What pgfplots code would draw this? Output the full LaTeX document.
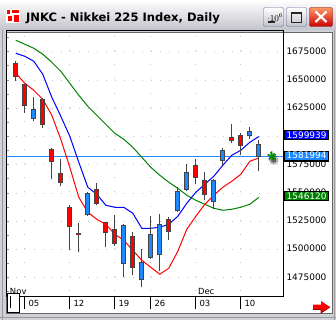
\documentclass[border=0pt]{standalone}
\usepackage{fontspec}
\setmainfont{DejaVu Sans}
\usepackage{pgfplots}
\pgfplotsset{compat=1.18}
\usepackage{pgfplotstable}

\definecolor{winframe}{HTML}{D0D0D8}
\definecolor{candR}{HTML}{FF0000}
\definecolor{candB}{HTML}{1E88FF}
\definecolor{wick}{HTML}{444444}
\definecolor{maB}{HTML}{0000FF}
\definecolor{maR}{HTML}{FF0000}
\definecolor{maG}{HTML}{008000}
\definecolor{priceB}{HTML}{1E88FF}
\definecolor{gridc}{HTML}{C4C4C4}

% wicks: low and high of every candle (nan rows separate candles)
\pgfplotstableread{
i y
1 1648893
1 1666593
nan nan
2 1620575
2 1646239
nan nan
3 1613495
3 1634734
nan nan
4 1607300
4 1633849
nan nan
5 1562167
5 1589601
nan nan
6 1555973
6 1579867
nan nan
7 1499335
7 1539158
nan nan
8 1497565
8 1523229
nan nan
9 1529424
9 1550663
nan nan
10 1539158
10 1558627
nan nan
11 1501990
11 1524114
nan nan
12 1502875
12 1530309
nan nan
13 1475441
13 1522344
nan nan
14 1477211
14 1515264
nan nan
15 1466592
15 1500220
nan nan
16 1491371
16 1529424
nan nan
17 1480751
17 1531194
nan nan
18 1508185
18 1528539
nan nan
19 1532964
19 1555088
nan nan
20 1551548
20 1575442
nan nan
21 1557742
21 1579867
nan nan
22 1543583
22 1568362
nan nan
23 1535619
23 1562167
nan nan
24 1574557
24 1589601
nan nan
25 1594026
25 1610840
nan nan
26 1583406
26 1602875
nan nan
27 1597566
27 1608185
nan nan
28 1569247
28 1596681
}\wicktab

% red (rising) bodies: open (bottom, s=1) and close (top, s=-1)
\pgfplotstableread{
i y s
1 1652433 1
1 1664823 -1
nan nan 0
2 1626769 1
2 1646239 -1
nan nan 0
4 1609955 1
4 1632964 -1
nan nan 0
5 1577212 1
5 1588716 -1
nan nan 0
6 1558627 1
6 1567477 -1
nan nan 0
7 1519689 1
7 1537388 -1
nan nan 0
8 1512610 1
8 1514379 -1
nan nan 0
10 1540043 1
10 1553318 -1
nan nan 0
11 1514379 1
11 1524114 -1
nan nan 0
12 1504645 1
12 1517919 -1
nan nan 0
14 1483406 1
14 1511725 -1
nan nan 0
18 1515264 1
18 1526769 -1
nan nan 0
21 1563052 1
21 1574557 -1
nan nan 0
22 1548008 1
22 1561282 -1
nan nan 0
25 1595796 1
25 1599336 -1
nan nan 0
26 1591371 1
26 1601106 -1
}\redtab

% blue (falling) bodies: close (bottom, s=1) and open (top, s=-1)
\pgfplotstableread{
i y s
3 1615265 1
3 1624115 -1
nan nan 0
9 1530309 1
9 1549778 -1
nan nan 0
13 1486946 1
13 1521459 -1
nan nan 0
15 1472786 1
15 1488716 -1
nan nan 0
16 1492255 1
16 1513494 -1
nan nan 0
17 1494910 1
17 1522344 -1
nan nan 0
19 1533849 1
19 1551548 -1
nan nan 0
20 1552433 1
20 1568362 -1
nan nan 0
23 1541813 1
23 1561282 -1
nan nan 0
24 1578097 1
24 1587831 -1
nan nan 0
27 1600221 1
27 1604645 -1
nan nan 0
28 1581994 1
28 1593141 -1
}\bluetab

\pgfplotstableread{
i b r g
1 1673672 1655973 1685177
2 1671017 1647123 1681637
3 1666593 1640929 1678097
4 1655088 1632964 1672787
5 1634734 1618805 1665708
6 1617920 1597566 1657743
7 1600221 1572787 1647123
8 1577212 1546238 1636504
9 1555088 1532964 1626769
10 1548893 1526769 1618805
11 1539158 1522344 1610840
12 1537388 1513494 1602875
13 1537388 1508185 1597566
14 1532079 1499335 1590486
15 1518804 1490486 1581636
16 1518804 1484291 1572787
17 1519689 1478096 1565707
18 1522344 1483406 1559512
19 1529424 1498450 1554203
20 1540928 1517919 1548008
21 1550663 1529424 1543583
22 1557742 1540043 1540043
23 1564822 1548008 1536503
24 1574557 1555088 1534733
25 1583406 1560397 1535619
26 1587831 1566592 1537388
27 1594911 1578097 1540043
28 1599939 1581000 1546120
}\matab

\begin{document}
\begin{tikzpicture}[x=1bp,y=1bp]
\useasboundingbox (0,0) rectangle (336,320);
% window chrome
\fill[winframe] (0,0) rectangle (336,320);
\shade[top color=white, bottom color=black!6!winframe] (0,290) rectangle (336,320);
\draw[black!40, line width=1bp] (2.5,0) -- (2.5,290);
\draw[black!40, line width=1bp] (0,2.5) -- (336,2.5);
\draw[black!40, line width=1bp] (334.5,0) -- (334.5,290);
\fill[white] (7,7) rectangle (332,287);
\draw[black!60, line width=1bp] (6.5,6.5) rectangle (332.5,287.5);
% icon
\fill[white] (6,297) rectangle (20,311);
\fill[red] (7,306) rectangle (10,310);
\fill[red] (12,307) rectangle (19,310);
\fill[red] (8,299) rectangle (12,304);
\fill[red] (14,298) rectangle (19,305);
% title
\node[anchor=base west, inner sep=0pt, font=\fontsize{11.6}{12}\selectfont\bfseries] at (26,299) {JNKC - Nikkei 225 Index, Daily};
% buttons
\shadedraw[top color=white, bottom color=blue!8!gray!45, draw=blue!20!gray, rounded corners=2bp] (263.5,293.5) rectangle (283.5,312.5);
\fill[black!85] (268,296.5) rectangle (275,299);
\shadedraw[top color=white, bottom color=blue!8!gray!45, draw=blue!20!gray, rounded corners=2bp] (286.5,293.5) rectangle (306.5,312.5);
\draw[black!85, line width=1.1bp] (291.5,297.5) rectangle (301.5,307.5);
\fill[black!85] (291,306) rectangle (302,308);
\shadedraw[top color=red!35!orange!60!white, bottom color=red!80!black, draw=red!45!black, rounded corners=2bp] (309.5,293.5) rectangle (332.5,312.5);
\draw[white, line width=2.2bp] (315.5,298) -- (326.5,308.5) (315.5,308.5) -- (326.5,298);

\begin{axis}[
  at={(7,21)}, anchor=south west,
  scale only axis, width=277bp, height=266bp,
  xmin=-0.055556, xmax=30.722222, ymin=1458627, ymax=1694027,
  axis line style={black, line width=1bp},
  xtick={2,7,12,16,21,26},
  xticklabels={05,12,19,26,03,10},
  xtick pos=bottom, xtick align=outside,
  major tick length=13bp,
  xtick style={black, line width=1bp},
  xticklabel style={font=\fontsize{8.5}{8.5}\selectfont, anchor=base west, inner sep=0pt, xshift=3.5bp, yshift=3bp},
  ytick={1475000,1500000,1525000,1550000,1575000,1600000,1625000,1650000,1675000},
  yticklabels={1475000,1500000,1525000,1550000,1575000,1600000,1625000,1650000,1675000},
  ytick pos=left, yticklabel pos=right,
  major y tick style={draw=none},
  minor ytick={1462500,1475000,1487500,1500000,1512500,1525000,1537500,1550000,1562500,1575000,1587500,1600000,1612500,1625000,1637500,1650000,1662500,1675000,1687500},
  minor tick length=3bp,
  minor tick style={black!45, line width=0.8bp},
  yticklabel style={font=\fontsize{9}{9}\selectfont, anchor=west, inner sep=0pt, xshift=3bp, yshift=1bp},
  xmajorgrids, ymajorgrids,
  x grid style={gridc, line width=1bp, dash pattern=on 1bp off 13.125bp, dash phase=9.2bp},
  y grid style={gridc, line width=1bp, dash pattern=on 1bp off 8bp, dash phase=8bp},
  unbounded coords=jump,
]
% current price line
\addplot[priceB, line width=1bp, solid] coordinates {(-0.055556,1581994) (30.722222,1581994)};
% moving averages
\addplot[maG, line width=1bp, solid] table[x=i, y=g] {\matab};
\addplot[maB, line width=1bp, solid] table[x=i, y=b] {\matab};
\addplot[maR, line width=1bp, solid] table[x=i, y=r] {\matab};
% candles: wicks, body outlines, body fills
\addplot[forget plot, wick, line width=1bp, solid, mark=none, line cap=butt] table[x=i, y=y] {\wicktab};
\addplot[forget plot, wick, line width=5bp, solid, mark=none, line cap=butt] table[x=i, y=y] {\redtab};
\addplot[forget plot, wick, line width=5bp, solid, mark=none, line cap=butt] table[x=i, y=y] {\bluetab};
\addplot[forget plot, candR, line width=3bp, solid, mark=none, line cap=butt] table[x=i, y expr={\thisrow{y}+800*\thisrow{s}}] {\redtab};
\addplot[forget plot, candB, line width=3bp, solid, mark=none, line cap=butt] table[x=i, y expr={\thisrow{y}+800*\thisrow{s}}] {\bluetab};
% current price marker
\addplot[forget plot, only marks, mark=*, mark size=4.5bp, mark options={solid, fill=black, draw=none, opacity=0.25}] coordinates {(29.66,1579300)};
\addplot[forget plot, only marks, mark=*, mark size=2.5bp, mark options={solid, fill=black, draw=none, opacity=0.45}] coordinates {(29.66,1579300)};
\addplot[forget plot, only marks, mark=star, mark size=4.5bp, mark options={solid, draw=green!45!black, line width=1.3bp}] coordinates {(29.44,1582800)};
\addplot[forget plot, only marks, mark=asterisk, mark size=4bp, mark options={solid, draw=green!55!black, line width=1.1bp, rotate=15}] coordinates {(29.44,1582800)};
% month labels
\node[anchor=base west, inner sep=0pt, font=\fontsize{8.5}{8.5}\selectfont, xshift=3bp, yshift=1.5bp] at (0,1458627) {Nov};
\node[anchor=base west, inner sep=0pt, font=\fontsize{8.5}{8.5}\selectfont, xshift=2bp, yshift=1.5bp] at (21,1458627) {Dec};
\coordinate (bB) at (30.722222,1599939);
\coordinate (bR) at (30.722222,1580300);
\coordinate (bP) at (30.722222,1581994);
\coordinate (bG) at (30.722222,1546120);
\end{axis}
% value boxes
\tikzset{vbox/.style={anchor=west, xshift=1bp, yshift=1.5bp, minimum width=44bp, minimum height=9bp, inner sep=0pt, text=white, draw=black, line width=0.7bp, font=\fontsize{9}{9}\selectfont}}
\node[vbox, fill=candR] at (bR) {1580300};
\node[vbox, fill=priceB] at (bP) {1581994};
\node[vbox, fill=maB] at (bB) {1599939};
\node[vbox, fill=maG] at (bG) {1546120};
% bottom-left scroll box
\filldraw[fill=white, draw=black, line width=1bp] (7.5,7.5) rectangle (19,26);
\draw[black, line width=1bp] (10,12) -- (10,24);
% scroll arrow
\fill[red] (313,10.5) -- (321,10.5) -- (321,7) -- (330,13) -- (321,19) -- (321,15.5) -- (313,15.5) -- cycle;
\draw[red!55!black, line width=0.8bp] (313,10.5) -- (321,10.5) -- (321,7) -- (330,13);
\end{tikzpicture}
\end{document}
